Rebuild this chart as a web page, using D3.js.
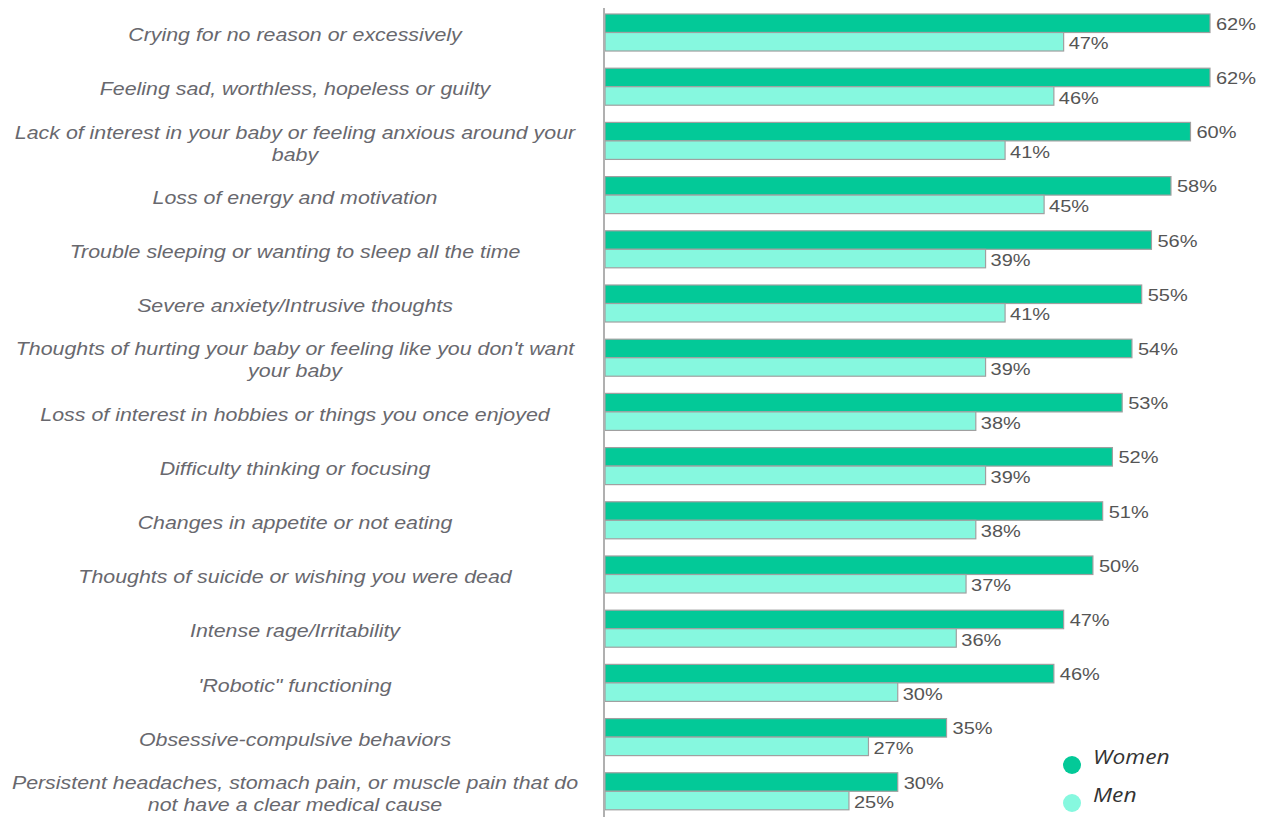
<!DOCTYPE html>
<html>
<head>
<meta charset="utf-8">
<script src="https://cdn.jsdelivr.net/npm/d3@7"></script>
<style>
  body { margin: 0; background: #fff; }
  svg { display: block; }
</style>
</head>
<body>
<svg class="chart"></svg>
<script>
// categories, each entry is a list of label lines
var categories = [
    ["Crying for no reason or excessively"],
    ["Feeling sad, worthless, hopeless or guilty"],
    ["Lack of interest in your baby or feeling anxious around your", "baby"],
    ["Loss of energy and motivation"],
    ["Trouble sleeping or wanting to sleep all the time"],
    ["Severe anxiety/Intrusive thoughts"],
    ["Thoughts of hurting your baby or feeling like you don't want", "your baby"],
    ["Loss of interest in hobbies or things you once enjoyed"],
    ["Difficulty thinking or focusing"],
    ["Changes in appetite or not eating"],
    ["Thoughts of suicide or wishing you were dead"],
    ["Intense rage/Irritability"],
    ["'Robotic\" functioning"],
    ["Obsessive-compulsive behaviors"],
    ["Persistent headaches, stomach pain, or muscle pain that do", "not have a clear medical cause"]
];
var women = [62, 62, 60, 58, 56, 55, 54, 53, 52, 51, 50, 47, 46, 35, 30];
var men = [47, 46, 41, 45, 39, 41, 39, 38, 39, 38, 37, 36, 30, 27, 25];
var seriesNames = ["Women", "Men"];
var seriesColors = ["#03c998", "#86f8df"];

var width = 1267, height = 817;
var axisX = 605;

var svg = d3.select(".chart")
    .attr("width", width)
    .attr("height", height);

var x = d3.scaleLinear().domain([0, 62]).range([axisX, 1210]);

// step ~54.2px, bars pair ~37px high
var y = d3.scaleBand()
    .domain(d3.range(categories.length))
    .range([14, 14 + 15 * 54.2 - 17.2])
    .paddingInner(0.317)
    .paddingOuter(0);

var inner = d3.scaleBand()
    .domain([0, 1])
    .range([0, y.bandwidth()]);

var rows = svg.selectAll("g.row")
    .data(categories)
    .enter().append("g")
    .attr("class", "row")
    .attr("transform", function (d, i) { return "translate(0," + y(i) + ")"; });

rows.each(function (d, i) {
    var g = d3.select(this);
    var vals = [women[i], men[i]];
    vals.forEach(function (v, s) {
        g.append("rect")
            .attr("x", x(0))
            .attr("y", inner(s))
            .attr("width", x(v) - x(0))
            .attr("height", inner.bandwidth())
            .style("fill", seriesColors[s])
            .style("stroke", "#a0a0a0")
            .style("stroke-width", 1.2);
        var lx = x(v) + (s == 0 ? 6 : 5);
        var ly = inner(s) + inner.bandwidth() / 2 + (s == 0 ? 1 : 2);
        g.append("text")
            .attr("transform", "translate(" + lx + "," + ly + ") scale(1.25,1)")
            .attr("dy", "0.35em")
            .style("font-family", "'Liberation Sans', Arial, sans-serif")
            .style("font-size", "16px")
            .style("fill", "#555")
            .text(v + "%");
    });

    // category label (the source font is wide, so stretch it a bit)
    var lineH = 22;
    var cy = y.bandwidth() / 2 + 2.5 - (d.length - 1) * lineH / 2;
    var t = g.append("text")
        .attr("transform", "translate(295,0) scale(1.2,1)")
        .attr("text-anchor", "middle")
        .style("font-family", "'Liberation Sans', Arial, sans-serif")
        .style("font-style", "italic")
        .style("font-size", "17.8px")
        .style("fill", "#68686e");
    d.forEach(function (line, k) {
        t.append("tspan")
            .attr("x", 0)
            .attr("y", cy + k * lineH)
            .attr("dy", "0.35em")
            .text(line);
    });
});

// vertical axis line
svg.append("line")
    .attr("x1", axisX - 1).attr("x2", axisX - 1)
    .attr("y1", 8).attr("y2", height)
    .style("stroke", "#b0b0b0")
    .style("stroke-width", 2);

// legend
var legend = svg.selectAll("g.legend")
    .data(seriesNames)
    .enter().append("g")
    .attr("class", "legend")
    .attr("transform", function (d, i) { return "translate(1072," + (765 + i * 38) + ")"; });

legend.append("circle")
    .attr("r", 9)
    .style("fill", function (d, i) { return seriesColors[i]; });

legend.append("text")
    .attr("transform", "translate(21,-8) scale(1.14,1)")
    .attr("dy", "0.35em")
    .style("font-family", "'Open Sans', 'Noto Sans', sans-serif")
    .style("font-style", "italic")
    .style("font-size", "20px")
    .style("fill", "#333")
    .text(function (d) { return d; });
</script>
</body>
</html>
